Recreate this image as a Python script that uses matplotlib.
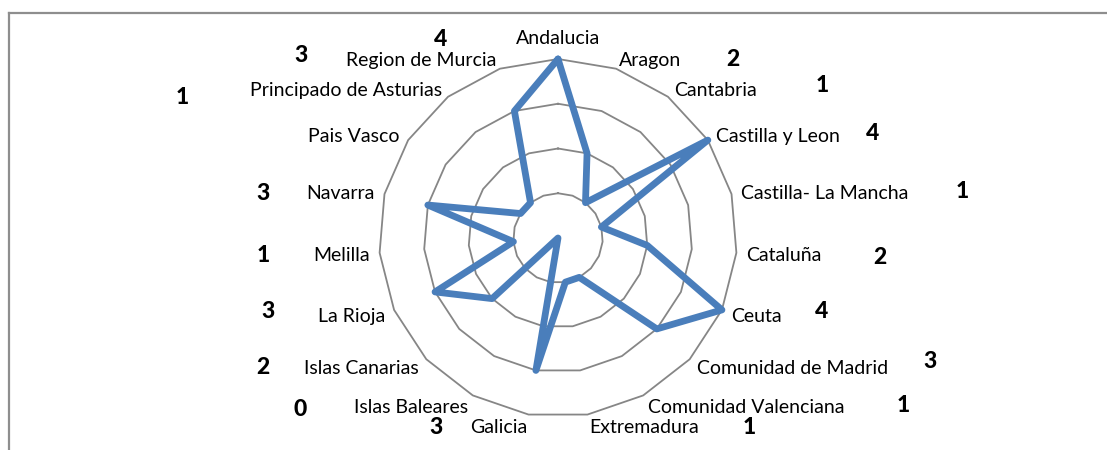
import numpy as np
import matplotlib
matplotlib.use("Agg")
import matplotlib.pyplot as plt
from matplotlib.lines import Line2D

# ---- data -------------------------------------------------------------
categories = ["Andalucia", "Aragon", "Cantabria", "Castilla y Leon",
              "Castilla- La Mancha", "Cataluña", "Ceuta", "Comunidad de Madrid",
              "Comunidad Valenciana", "Extremadura", "Galicia", "Islas Baleares",
              "Islas Canarias", "La Rioja", "Melilla", "Navarra", "Pais Vasco",
              "Principado de Asturias", "Region de Murcia"]
values = [4, 2, 1, 4, 1, 2, 4, 3, 1, 1, 3, 0, 2, 3, 1, 3, 1, 1, 3]
ring_levels = [1, 2, 3, 4]

# free-floating value text boxes (pixel positions in the 1107x450 image)
value_box_px = [(441, 40), (733, 60), (822, 86), (873, 134), (962, 191),
                (880, 258), (822, 311), (930, 362), (903, 405), (749, 427),
                (436, 427), (300, 410), (263, 367), (268, 311), (263, 256),
                (263, 194), None, (182, 97), (301, 56)]

# ---- style ------------------------------------------------------------
plt.rcParams["font.family"] = ["Lato", "DejaVu Sans"]
W, H = 1107, 450
fig = plt.figure(figsize=(W / 100, H / 100), dpi=100)
fig.patch.set_facecolor("white")

cx, cy, R = 558, 238, 179
ax = fig.add_axes([(cx - R) / W, (H - cy - R) / H, 2 * R / W, 2 * R / H],
                  projection="polar")
ax.set_theta_zero_location("N")
ax.set_theta_direction(-1)
ax.set_ylim(0, max(ring_levels))
ax.set_axis_off()

N = len(categories)
theta = np.linspace(0, 2 * np.pi, N, endpoint=False)
theta_c = np.append(theta, theta[0])

for lvl in ring_levels:
    ax.plot(theta_c, [lvl] * (N + 1), color="#868686", lw=1.3, clip_on=False,
            zorder=1)

vals_c = values + values[:1]
ax.plot(theta_c, vals_c, color="#4a7ebb", lw=4.9, clip_on=False,
        solid_joinstyle="round", solid_capstyle="round", zorder=3)

# category labels around the outer ring
for t, cat in zip(theta, categories):
    s, c = np.sin(t), np.cos(t)
    if abs(s) < 0.05:
        ha, dx, dy = "center", 0, 20
    else:
        ha = "left" if s > 0 else "right"
        dx, dy = 10 * s, 11 * c - 2
    ax.annotate(cat, xy=(t, max(ring_levels)), xytext=(dx, dy),
                textcoords="offset pixels", ha=ha, va="center",
                fontsize=14, color="black", annotation_clip=False)

# value text boxes
for v, pos in zip(values, value_box_px):
    if pos is None:
        continue
    fig.text(pos[0] / W, 1 - pos[1] / H, str(v), ha="center", va="center",
             fontsize=16.5, fontweight="black", color="black")

# chart-area border (partially cropped in the original)
bx, by = 8.5 / W, 1 - 13 / H
fig.add_artist(Line2D([bx, bx], [0, by], transform=fig.transFigure,
                      color="#8e8e8e", lw=1.6))
fig.add_artist(Line2D([bx, 1], [by, by], transform=fig.transFigure,
                      color="#8e8e8e", lw=1.6))

fig.savefig("out.png", dpi=100)
